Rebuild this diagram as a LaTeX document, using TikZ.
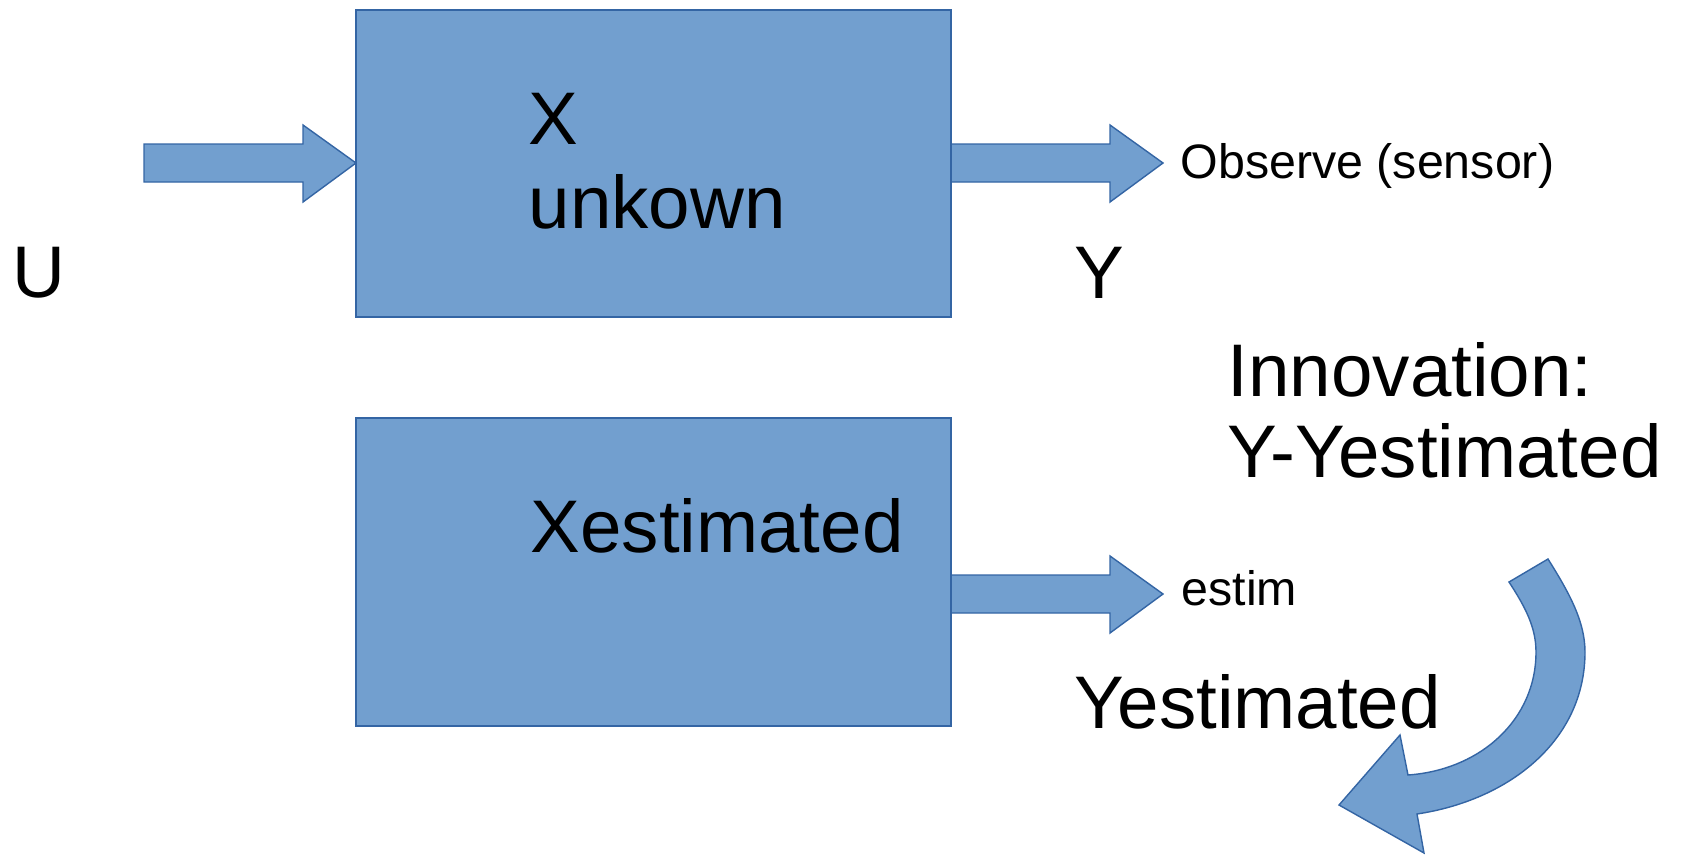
\documentclass[tikz,border=0pt]{standalone}
\usepackage{fontspec}
\setmainfont{Liberation Sans}
\definecolor{boxfill}{HTML}{729FCF}
\definecolor{boxline}{HTML}{3465A4}
\begin{document}
\begin{tikzpicture}[x=0.01cm,y=-0.01cm,
  blockbox/.style={draw=boxline, fill=boxfill, line width=0.4pt, inner sep=0pt, outer sep=0pt,
     minimum width=5.95cm},
  blk/.style={draw=boxline, fill=boxfill, line width=0.4pt, line join=miter},
  big/.style={inner sep=0pt, anchor=base west, font=\fontsize{21.2}{24}\selectfont},
  small/.style={inner sep=0pt, anchor=base west, font=\fontsize{13.75}{16}\selectfont}]
\useasboundingbox (0,0) rectangle (1681,854);
% block arrows
\draw[blk] (144,144) -- (303,144) -- (303,125) -- (356,163) -- (303,202) -- (303,182) -- (144,182) -- cycle;
\draw[blk] (951,144) -- (1110,144) -- (1110,125) -- (1163,163) -- (1110,202) -- (1110,182) -- (951,182) -- cycle;
\draw[blk] (951,575) -- (1110,575) -- (1110,556) -- (1163,594) -- (1110,633) -- (1110,613) -- (951,613) -- cycle;
% boxes
\node[blockbox, minimum height=3.07cm] (top) at (653.5,163.5) {};
\node[blockbox, minimum height=3.08cm] (bot) at (653.5,572) {};
% curved arrow
\draw[blk] (1548,559) .. controls (1570,594) and (1585,622) .. (1585,652)
  .. controls (1585,740) and (1510,800) .. (1417,814)
  -- (1424,853) -- (1339,805) -- (1400,735) -- (1408,775)
  .. controls (1480,770) and (1536,720) .. (1536,652)
  .. controls (1536,628) and (1526,608) .. (1509,582) -- cycle;
% texts
\node[big] (xl1) at (528,144) {X};
\node[big] (xl2) at (528,228) {unkown};
\node[big] (xest) at (530,552) {Xestimated};
\node[big, font=\fontsize{20.8}{24}\selectfont] (u) at (12,297) {U};
\node[big] (y) at (1074,298) {Y};
\node[small] (obs) at (1180,178) {Observe (sensor)};
\node[small] (estim) at (1181,605) {estim};
\node[big] (inn1) at (1227,396) {Innovation:};
\node[big] (inn2) at (1227,477) {Y-Yestimated};
\node[big] (yest) at (1074,728) {Yestimated};
\end{tikzpicture}
\end{document}
